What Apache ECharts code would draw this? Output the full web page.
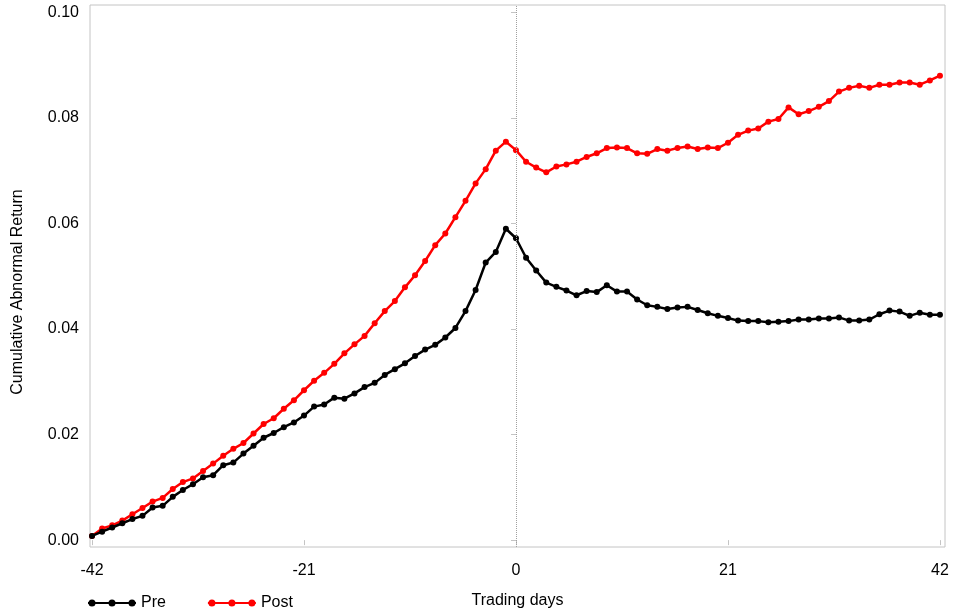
<!DOCTYPE html>
<html>
<head>
<meta charset="utf-8">
<script src="https://cdn.jsdelivr.net/npm/echarts@6/dist/echarts.min.js"></script>
<style>html,body{margin:0;padding:0;background:#fff}#c{width:954px;height:615px}</style>
</head>
<body>
<div id="c"></div>
<script>
const days = [];
for (let d = -42; d <= 42; d++) days.push(d);
const pre = [
0.0008,0.0016,0.0024,0.0032,0.0040,0.0046,0.0062,0.0065,0.0082,0.0095,
0.0106,0.0119,0.0123,0.0142,0.0147,0.0164,0.0179,0.0194,0.0203,0.0214,
0.0223,0.0236,0.0253,0.0257,0.0270,0.0268,0.0278,0.0290,0.0298,0.0313,
0.0324,0.0335,0.0349,0.0361,0.0370,0.0384,0.0402,0.0434,0.0474,0.0526,
0.0546,0.0590,0.0572,0.0535,0.0511,0.0488,0.0480,0.0473,0.0464,0.0472,
0.0470,0.0483,0.0471,0.0471,0.0456,0.0445,0.0442,0.0438,0.0441,0.0442,
0.0436,0.0430,0.0425,0.0421,0.0416,0.0415,0.0415,0.0413,0.0414,0.0415,
0.0418,0.0418,0.0420,0.0420,0.0422,0.0416,0.0416,0.0418,0.0428,0.0435,
0.0433,0.0425,0.0431,0.0427,0.0427];
const post = [
0.0008,0.0022,0.0028,0.0037,0.0049,0.0061,0.0073,0.0080,0.0097,0.0110,
0.0117,0.0131,0.0145,0.0160,0.0173,0.0184,0.0202,0.0220,0.0231,0.0249,
0.0265,0.0284,0.0302,0.0317,0.0334,0.0354,0.0371,0.0387,0.0411,0.0434,
0.0453,0.0479,0.0502,0.0529,0.0559,0.0581,0.0612,0.0643,0.0676,0.0703,
0.0738,0.0755,0.0739,0.0717,0.0706,0.0697,0.0708,0.0712,0.0717,0.0726,
0.0733,0.0743,0.0744,0.0743,0.0733,0.0732,0.0741,0.0738,0.0743,0.0746,
0.0741,0.0744,0.0743,0.0753,0.0768,0.0776,0.0780,0.0793,0.0798,0.0820,
0.0807,0.0813,0.0821,0.0832,0.0850,0.0857,0.0861,0.0857,0.0863,0.0863,
0.0867,0.0867,0.0863,0.0871,0.0880];
const xTicks = [-42, -21, 0, 21, 42];
const yTicks = [0, 0.02, 0.04, 0.06, 0.08, 0.10];

const font = '"Liberation Sans", Arial, sans-serif';
const legendIcon = 'path://M0,2.9 L48,2.9 L48,5.1 L0,5.1 Z ' +
  'M0.5,4 a3.5,3.5 0 1,1 7,0 a3.5,3.5 0 1,1 -7,0 Z ' +
  'M20.5,4 a3.5,3.5 0 1,1 7,0 a3.5,3.5 0 1,1 -7,0 Z ' +
  'M40.5,4 a3.5,3.5 0 1,1 7,0 a3.5,3.5 0 1,1 -7,0 Z';

const chart = echarts.init(document.getElementById('c'), null, {renderer: 'canvas'});
chart.setOption({
  animation: false,
  backgroundColor: '#fff',
  grid: {left: 90, right: 9, top: 5, bottom: 68, show: true, borderColor: '#c4c4c4', borderWidth: 1, containLabel: false},
  legend: {
    left: 83, top: 590, itemWidth: 48, itemHeight: 7, itemGap: 42,
    textStyle: {fontFamily: font, fontSize: 16, color: '#000'},
    data: [{name: 'Pre', icon: legendIcon, itemStyle: {color: '#000', borderWidth: 0}},
           {name: 'Post', icon: legendIcon, itemStyle: {color: '#ff0000', borderWidth: 0}}]
  },
  graphic: [{
    type: 'text', x: 10, y: 292, rotation: Math.PI / 2,
    style: {text: 'Cumulative Abnormal Return', fontFamily: font, fontSize: 16, fill: '#000',
      align: 'center', verticalAlign: 'top'}
  }],
  xAxis: {
    type: 'value', min: -42.2, max: 42.5,
    name: 'Trading days', nameLocation: 'middle', nameGap: 46,
    nameTextStyle: {fontFamily: font, fontSize: 16, color: '#000'},
    axisLine: {show: false},
    axisTick: {show: true, customValues: xTicks, length: 5, lineStyle: {color: '#c4c4c4'}},
    axisLabel: {customValues: xTicks, margin: 16, fontFamily: font, fontSize: 16, color: '#000'},
    splitLine: {show: false}
  },
  yAxis: {
    type: 'value', min: -0.0013, max: 0.1014,
    axisLine: {show: false},
    axisTick: {show: true, customValues: yTicks, length: 5, lineStyle: {color: '#c4c4c4'}},
    axisLabel: {customValues: yTicks, margin: 11, fontFamily: font, fontSize: 16, color: '#000',
      formatter: v => v.toFixed(2)},
    splitLine: {show: false}
  },
  series: [
    {
      name: 'Pre', type: 'line', data: days.map((d, i) => [d, pre[i]]),
      color: '#000', symbol: 'circle', symbolSize: 6, lineStyle: {width: 2.5, color: '#000'},
      itemStyle: {color: '#000'}, z: 3,
      markLine: {
        silent: true, symbol: 'none', label: {show: false},
        lineStyle: {type: 'dotted', color: '#a0a0a0', width: 1},
        data: [{xAxis: 0}]
      }
    },
    {
      name: 'Post', type: 'line', data: days.map((d, i) => [d, post[i]]),
      color: '#ff0000', symbol: 'circle', symbolSize: 6, lineStyle: {width: 2.5, color: '#ff0000'},
      itemStyle: {color: '#ff0000'}, z: 2
    }
  ]
});
</script>
</body>
</html>
